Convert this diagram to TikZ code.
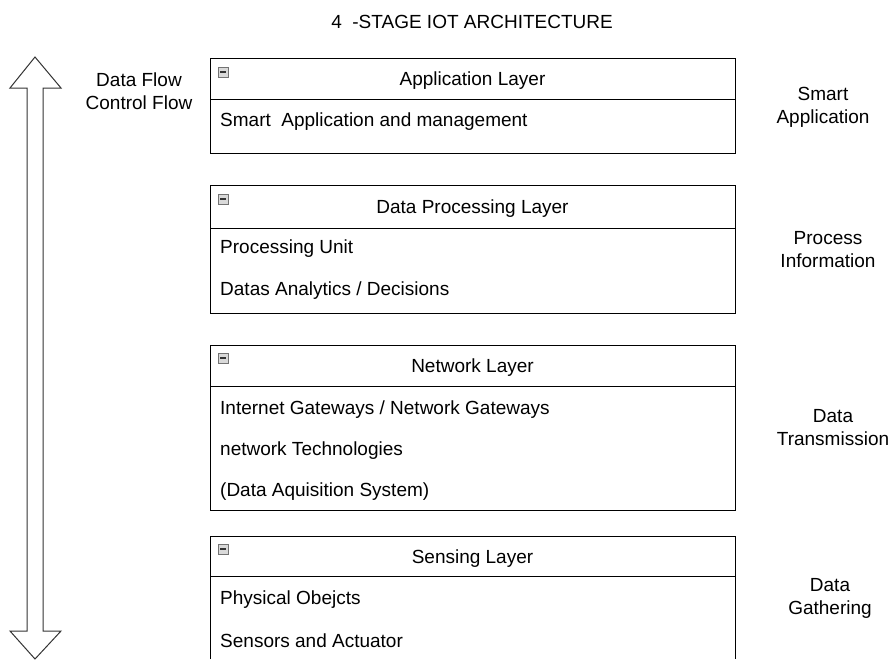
\documentclass[tikz,border=0pt]{standalone}
\usepackage{fontspec}
\setmainfont{Liberation Sans}
\begin{document}
\begin{tikzpicture}[x=1pt,y=-1pt,
  every node/.style={font=\fontsize{19}{23}\selectfont, text=black},
  layerbox/.style={draw=black, line width=1pt, rectangle, anchor=north west, inner sep=0, minimum width=525},
  headline/.style={line width=1pt},
  item/.style={anchor=west, inner sep=0},
  head/.style={inner sep=0},
  side/.style={align=center, inner sep=0},
  icon/.style={draw=black!55, fill=black!15, line width=0.6pt, minimum size=10, inner sep=0,
    path picture={\draw[line width=1.5pt, black!80] ([xshift=2pt]path picture bounding box.west) -- ([xshift=-2pt]path picture bounding box.east);}},
  bigarrow/.style={draw=black!80, line width=1pt, fill=white, line join=miter}]
\useasboundingbox (0,0) rectangle (891,659);

% title
\node[head] (title) at (472,22) {4\ \ -STAGE IOT ARCHITECTURE};

% double arrow
\draw[bigarrow] (35,57) -- (10,88) -- (27,88) -- (27,631) -- (10,631) -- (35,659) -- (61,631) -- (43,631) -- (43,88) -- (61,88) -- cycle;

\node[side] (flow) at (139,91) {Data Flow\\Control Flow};

% Application layer
\node[layerbox, minimum height=95] (appbox) at (210,58) {};
\draw[headline] (appbox.west |- 0,99) -- (appbox.east |- 0,99);
\node[icon] (appicon) at (223,72) {};
\node[head] (apphead) at (472.5,81) {Application Layer};
\node[item] (app1) at (220,122) {Smart\ \ Application and management};
\node[side] (appside) at (823,107.5) {Smart\\Application};

% Data processing layer
\node[layerbox, minimum height=128] (procbox) at (210,185) {};
\draw[headline] (procbox.west |- 0,228) -- (procbox.east |- 0,228);
\node[icon] (procicon) at (223,199) {};
\node[head] (prochead) at (472.5,209) {Data Processing Layer};
\node[item] (proc1) at (220,249) {Processing Unit};
\node[item] (proc2) at (220,291) {Datas Analytics / Decisions};
\node[side] (procside) at (828,250) {Process\\Information};

% Network layer
\node[layerbox, minimum height=165] (netbox) at (210,345) {};
\draw[headline] (netbox.west |- 0,386) -- (netbox.east |- 0,386);
\node[icon] (neticon) at (223,358) {};
\node[head] (nethead) at (472.5,368) {Network Layer};
\node[item] (net1) at (220,410) {Internet Gateways / Network Gateways};
\node[item] (net2) at (220,451) {network Technologies};
\node[item] (net3) at (220,492) {(Data Aquisition System)};
\node[side] (netside) at (833,428) {Data\\Transmission};

% Sensing layer (cut off at bottom)
\coordinate (senstl) at (210,536);
\coordinate (senstr) at (735,536);
\draw[line width=1pt] (senstl |- 0,659) -- (senstl) -- (senstr) -- (senstr |- 0,659);
\draw[headline] (senstl |- 0,576) -- (senstr |- 0,576);
\node[icon] (sensicon) at (223,549) {};
\node[head] (senshead) at (472.5,559) {Sensing Layer};
\node[item] (sens1) at (220,600) {Physical Obejcts};
\node[item] (sens2) at (220,641) {Sensors and Actuator};
\node[side] (sensside) at (830,598.5) {Data\\Gathering};
\end{tikzpicture}
\end{document}
